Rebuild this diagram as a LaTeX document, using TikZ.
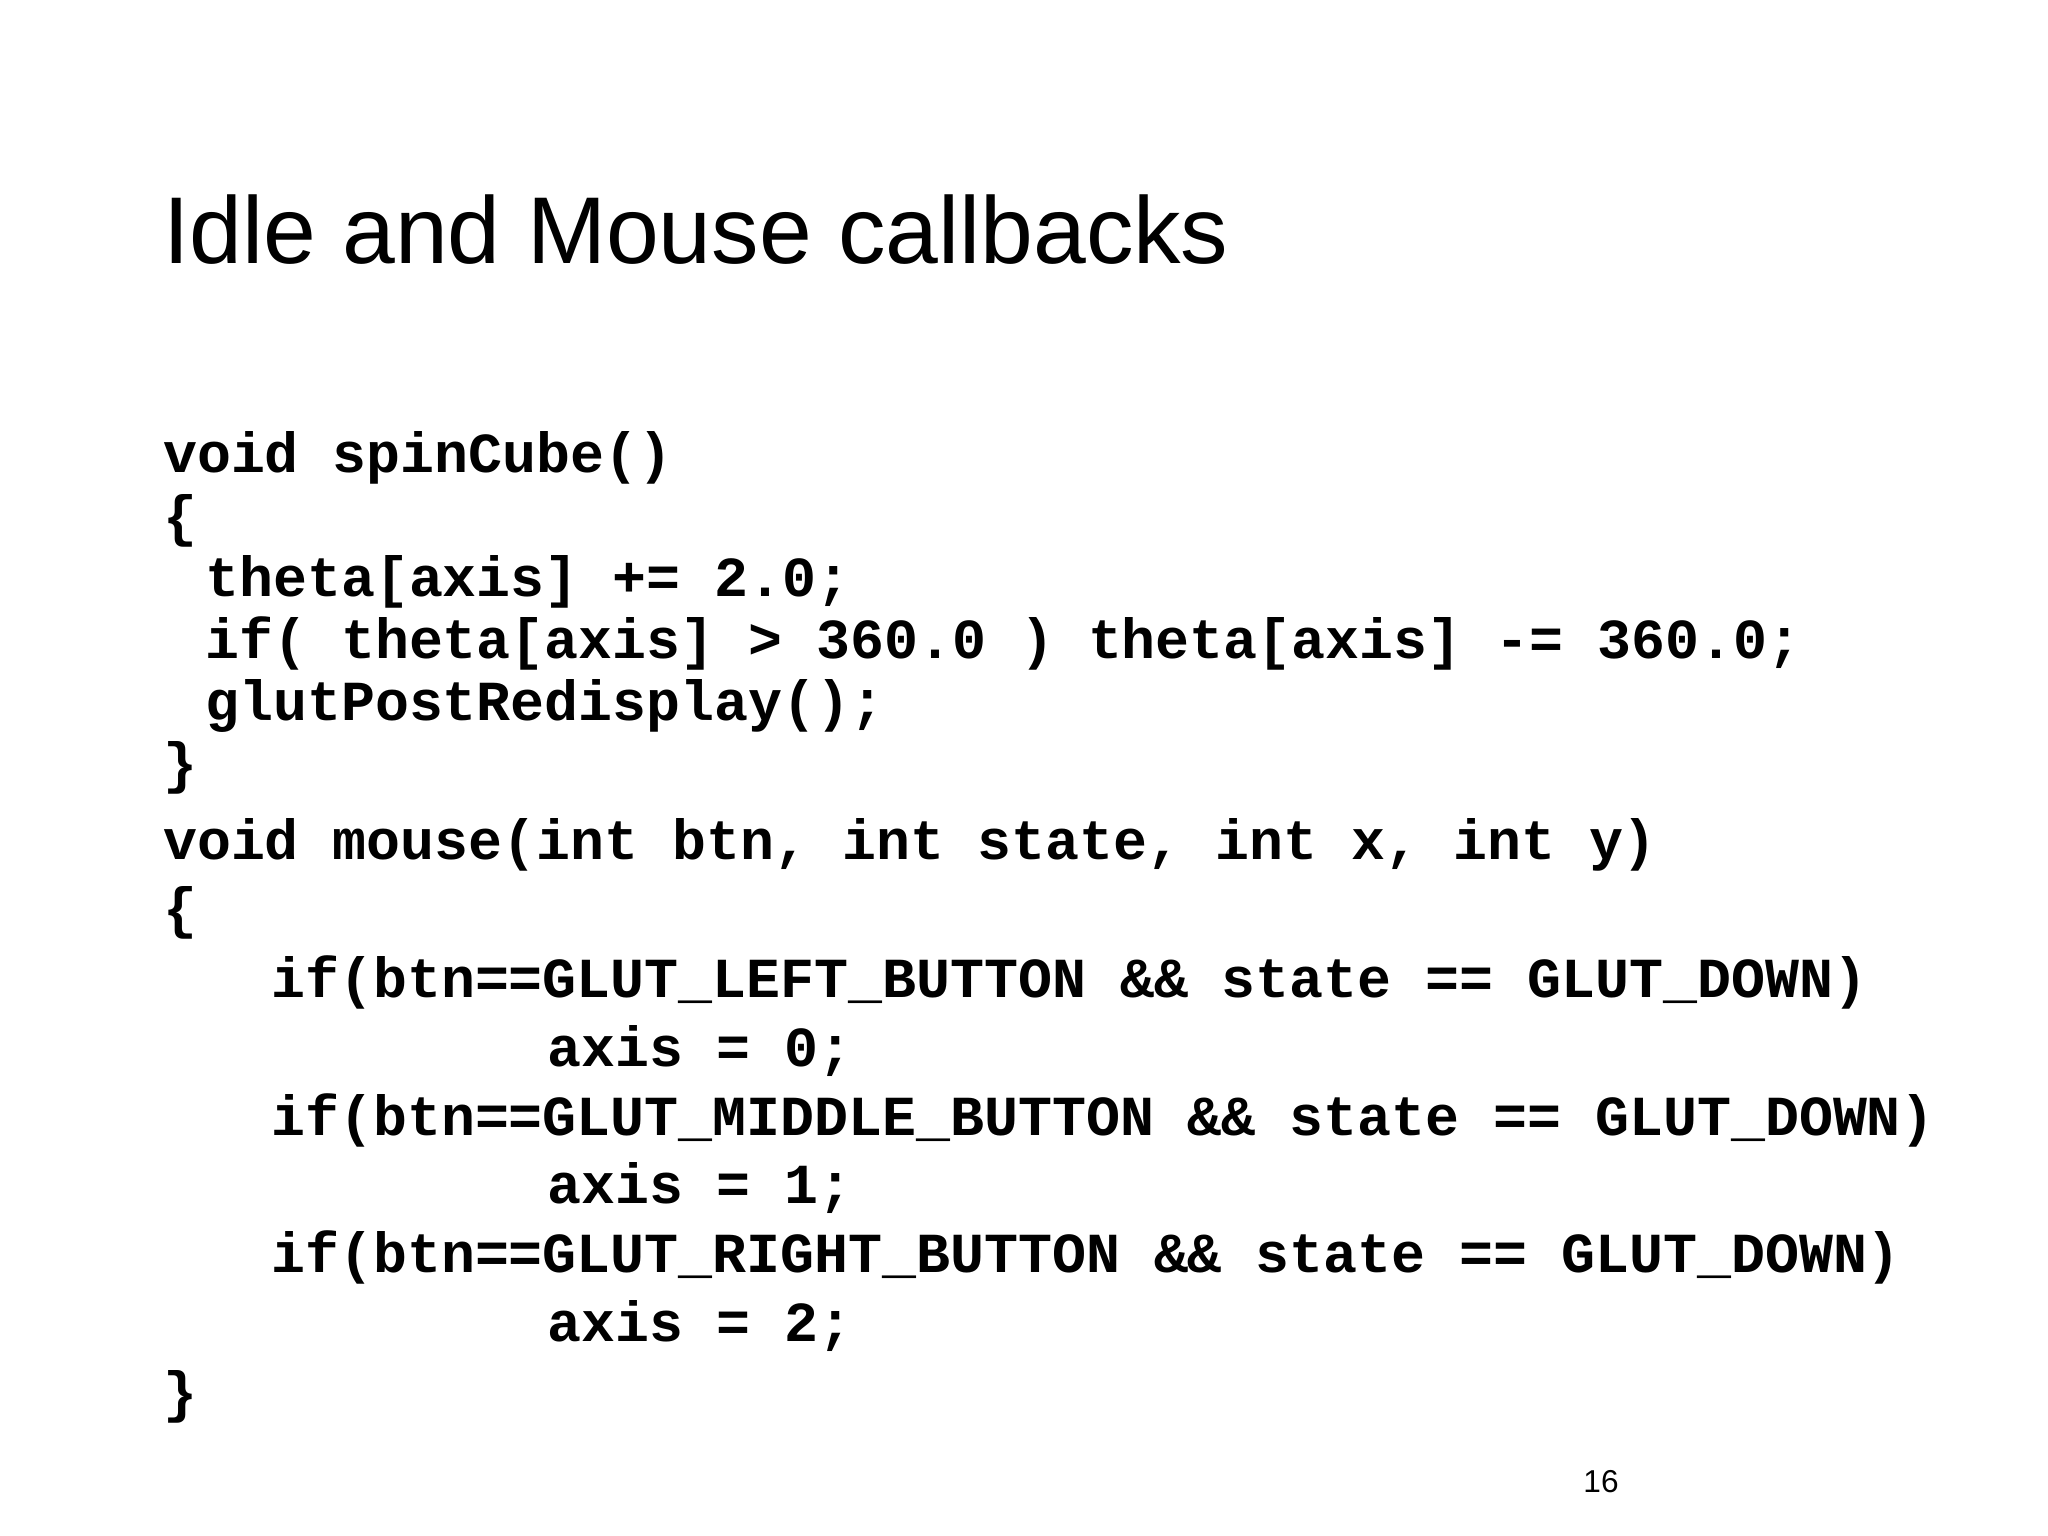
\documentclass[tikz,border=0pt]{standalone}
\usepackage{fontspec}
\setmainfont{Liberation Sans}
\setmonofont{Liberation Mono}
\begin{document}
\begin{tikzpicture}
\useasboundingbox (0,0) rectangle (20.48,15.36);
\tikzset{cl/.style={anchor=base west,inner sep=0pt,font=\ttfamily\bfseries\fontsize{16.1}{18}\selectfont}}
\node[anchor=base west,inner sep=0pt,font=\fontsize{27}{32}\selectfont] (title) at (1.624,12.72) {Idle and Mouse callbacks};
\node[cl] (l1) at (1.624,10.634) {void spinCube()};
\node[cl] (l2) at (1.624,10.001) {\{};
\node[cl] (l3) at (2.046,9.394) {theta[axis] += 2.0;};
\node[cl] (l4) at (2.046,8.773) {if( theta[axis] > 360.0 ) theta[axis] -= 360.0;};
\node[cl] (l5) at (2.046,8.153) {glutPostRedisplay();};
\node[cl] (l6) at (1.624,7.532) {\}};
\node[cl] (m1) at (1.624,6.767) {void mouse(int btn, int state, int x, int y)};
\node[cl] (m2) at (1.624,6.080) {\{};
\node[cl] (m3) at (2.706,5.381) {if(btn==GLUT\_LEFT\_BUTTON \&\& state == GLUT\_DOWN)};
\node[cl] (m4) at (5.465,4.694) {axis = 0;};
\node[cl] (m5) at (2.706,4.008) {if(btn==GLUT\_MIDDLE\_BUTTON \&\& state == GLUT\_DOWN)};
\node[cl] (m6) at (5.465,3.322) {axis = 1;};
\node[cl] (m7) at (2.706,2.635) {if(btn==GLUT\_RIGHT\_BUTTON \&\& state == GLUT\_DOWN)};
\node[cl] (m8) at (5.465,1.949) {axis = 2;};
\node[cl] (m9) at (1.624,1.249) {\}};
\node[anchor=base,inner sep=0pt,font=\fontsize{9}{11}\selectfont] (pg) at (16.01,0.431) {16};
\end{tikzpicture}
\end{document}
